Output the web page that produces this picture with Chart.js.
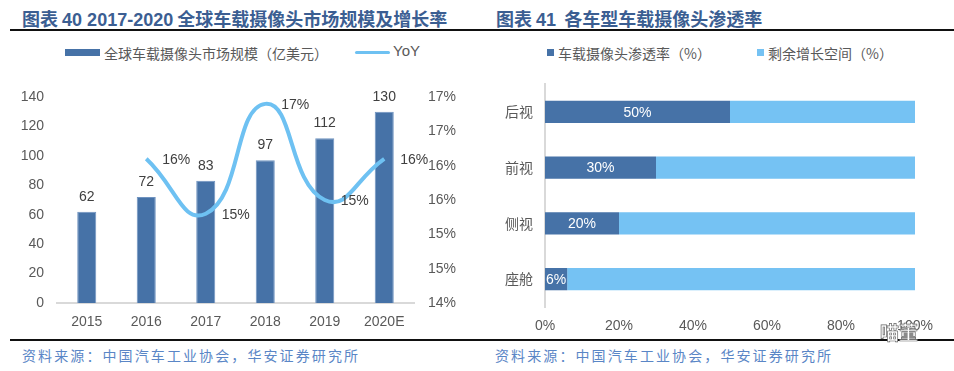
<!DOCTYPE html>
<html>
<head>
<meta charset="utf-8">
<script src="https://cdn.jsdelivr.net/npm/chart.js"></script>
<style>
  body { margin: 0; width: 954px; height: 371px; background: #fff; position: relative; overflow: hidden; font-family: "Noto Sans CJK SC", sans-serif; }
  .title { position: absolute; top: 5px; font-size: 18px; font-weight: bold; color: #3b5e92; white-space: nowrap; }
  .title .n { font-family: "Liberation Sans", Arial, sans-serif; }
  .rule { position: absolute; height: 0; border-top: 2px solid #111; }
  .legend { position: absolute; top: 43px; font-size: 14px; color: #595959; white-space: nowrap; }
  .sw { position: absolute; }
  .src { position: absolute; top: 345px; font-size: 14px; letter-spacing: 2.1px; color: #5a86c6; white-space: nowrap; }
  canvas { position: absolute; }
</style>
</head>
<body>
<div class="title" style="left:22px">图表 <span class="n">40 2017-2020</span> 全球车载摄像头市场规模及增长率</div>
<div class="title" style="left:496px">图表 <span class="n">41</span>&nbsp; 各车型车载摄像头渗透率</div>
<div class="rule" style="left:10px;width:944px;top:29px"></div>

<div class="sw" style="left:65px;top:49px;width:35px;height:7px;background:#4672a7"></div>
<div class="legend" style="left:104px">全球车载摄像头市场规模（亿美元）</div>
<div class="sw" style="left:355px;top:51px;width:35px;height:3px;background:#6ec1f2;border-radius:2px"></div>
<div class="legend" style="left:393px;font-family:'Liberation Sans',Arial,sans-serif;font-size:15px;top:42px">YoY</div>

<div class="sw" style="left:547px;top:49px;width:7px;height:7px;background:#4672a7"></div>
<div class="legend" style="left:558px">车载摄像头渗透率（%）</div>
<div class="sw" style="left:757px;top:49px;width:7px;height:7px;background:#75c2f3"></div>
<div class="legend" style="left:768px">剩余增长空间（%）</div>

<canvas id="left" width="480" height="280" style="left:0;top:60px"></canvas>
<canvas id="right" width="474" height="280" style="left:480px;top:60px"></canvas>

<div class="rule" style="left:10px;width:944px;top:339px"></div>
<div class="src" style="left:22px">资料来源：中国汽车工业协会，华安证券研究所</div>
<div class="src" style="left:495px">资料来源：中国汽车工业协会，华安证券研究所</div>
<div style="position:absolute;left:880px;top:318px;font-size:19px;font-weight:bold;color:#fff;-webkit-text-stroke:0.7px #666">喵董</div>

<script>
  // 图表40
  const years = ['2015', '2016', '2017', '2018', '2019', '2020E'];
  const marketSize = [62, 72, 83, 97, 112, 130];
  const yoy = [null, 16.1, 15.3, 16.9, 15.5, 16.1];
  const yoyLabels = [null, '16%', '15%', '17%', '15%', '16%'];

  // 图表41
  const carTypes = ['后视', '前视', '侧视', '座舱'];
  const penetration = [50, 30, 20, 6];
  const remaining = [50, 70, 80, 94];

  const numFont = { family: 'Liberation Sans, Arial, sans-serif', size: 14 };
  const grey = '#595959';

  // 自己画数据标签（没有datalabels插件）
  const labelPlugin = {
    id: 'labels',
    afterDatasetsDraw(chart) {
      const ctx = chart.ctx;
      ctx.save();
      ctx.font = '14px "Liberation Sans", Arial, sans-serif';
      ctx.textAlign = 'center';
      ctx.textBaseline = 'middle';
      if (chart.canvas.id === 'left') {
        ctx.fillStyle = '#404040';
        chart.getDatasetMeta(0).data.forEach((bar, i) => {
          ctx.fillText(marketSize[i], bar.x, bar.y - 15);
        });
        chart.getDatasetMeta(1).data.forEach((pt, i) => {
          if (yoyLabels[i]) ctx.fillText(yoyLabels[i], pt.x + 30, pt.y + 1);
        });
      } else {
        ctx.fillStyle = '#ffffff';
        chart.getDatasetMeta(0).data.forEach((bar, i) => {
          ctx.fillText(penetration[i] + '%', (bar.x + bar.base) / 2, bar.y + 1);
        });
      }
      ctx.restore();
    }
  };

  new Chart(document.getElementById('left'), {
    type: 'bar',
    data: {
      labels: years,
      datasets: [
        {
          label: '全球车载摄像头市场规模（亿美元）',
          data: marketSize,
          backgroundColor: '#4672a7',
          borderColor: '#6f93c0',
          borderWidth: 1,
          barPercentage: 0.32,
          categoryPercentage: 1,
          yAxisID: 'y',
          order: 2
        },
        {
          label: 'YoY',
          type: 'line',
          data: yoy,
          borderColor: '#6ec1f2',
          borderWidth: 4,
          pointRadius: 0,
          tension: 0.5,
          fill: false,
          yAxisID: 'y2',
          order: 1
        }
      ]
    },
    options: {
      responsive: false,
      animation: false,
      layout: { padding: { top: 37, left: 0, right: 0, bottom: 0 } },
      plugins: { legend: { display: false }, tooltip: { enabled: false } },
      scales: {
        x: {
          grid: { display: false, drawTicks: false },
          border: { display: true, color: '#d9d9d9', width: 2 },
          ticks: { font: numFont, color: grey, padding: 11 },
          afterFit: s => { s.height = 37; }
        },
        y: {
          position: 'left',
          min: 0, max: 140,
          grid: { display: false, drawTicks: false },
          border: { display: false },
          ticks: { stepSize: 20, font: numFont, color: grey, padding: 13 },
          afterFit: s => { s.width = 57; }
        },
        y2: {
          position: 'right',
          min: 14, max: 17,
          grid: { display: false, drawTicks: false },
          border: { display: false },
          ticks: { stepSize: 0.5, font: numFont, color: grey, padding: 14,
            callback: v => Math.round(v) + '%' },
          afterFit: s => { s.width = 66; }
        }
      }
    },
    plugins: [labelPlugin]
  });

  new Chart(document.getElementById('right'), {
    type: 'bar',
    data: {
      labels: carTypes,
      datasets: [
        {
          label: '车载摄像头渗透率（%）',
          data: penetration,
          backgroundColor: '#4672a7',
          barPercentage: 0.4,
          categoryPercentage: 1
        },
        {
          label: '剩余增长空间（%）',
          data: remaining,
          backgroundColor: '#75c2f3',
          barPercentage: 0.4,
          categoryPercentage: 1
        }
      ]
    },
    options: {
      indexAxis: 'y',
      responsive: false,
      animation: false,
      layout: { padding: { top: 24, left: 0, right: 39, bottom: 0 } },
      plugins: { legend: { display: false }, tooltip: { enabled: false } },
      scales: {
        x: {
          stacked: true,
          min: 0, max: 100,
          grid: { display: false, drawTicks: false },
          border: { display: false },
          ticks: { stepSize: 20, font: numFont, color: grey, padding: 11,
            callback: v => v + '%' },
          afterFit: s => { s.height = 33; }
        },
        y: {
          stacked: true,
          grid: { display: false, drawTicks: false },
          border: { display: true, color: '#d9d9d9', width: 2 },
          ticks: { font: { family: 'Noto Sans CJK SC', size: 14 }, color: grey, padding: 12 },
          afterFit: s => { s.width = 65; }
        }
      }
    },
    plugins: [labelPlugin]
  });
</script>
</body>
</html>
